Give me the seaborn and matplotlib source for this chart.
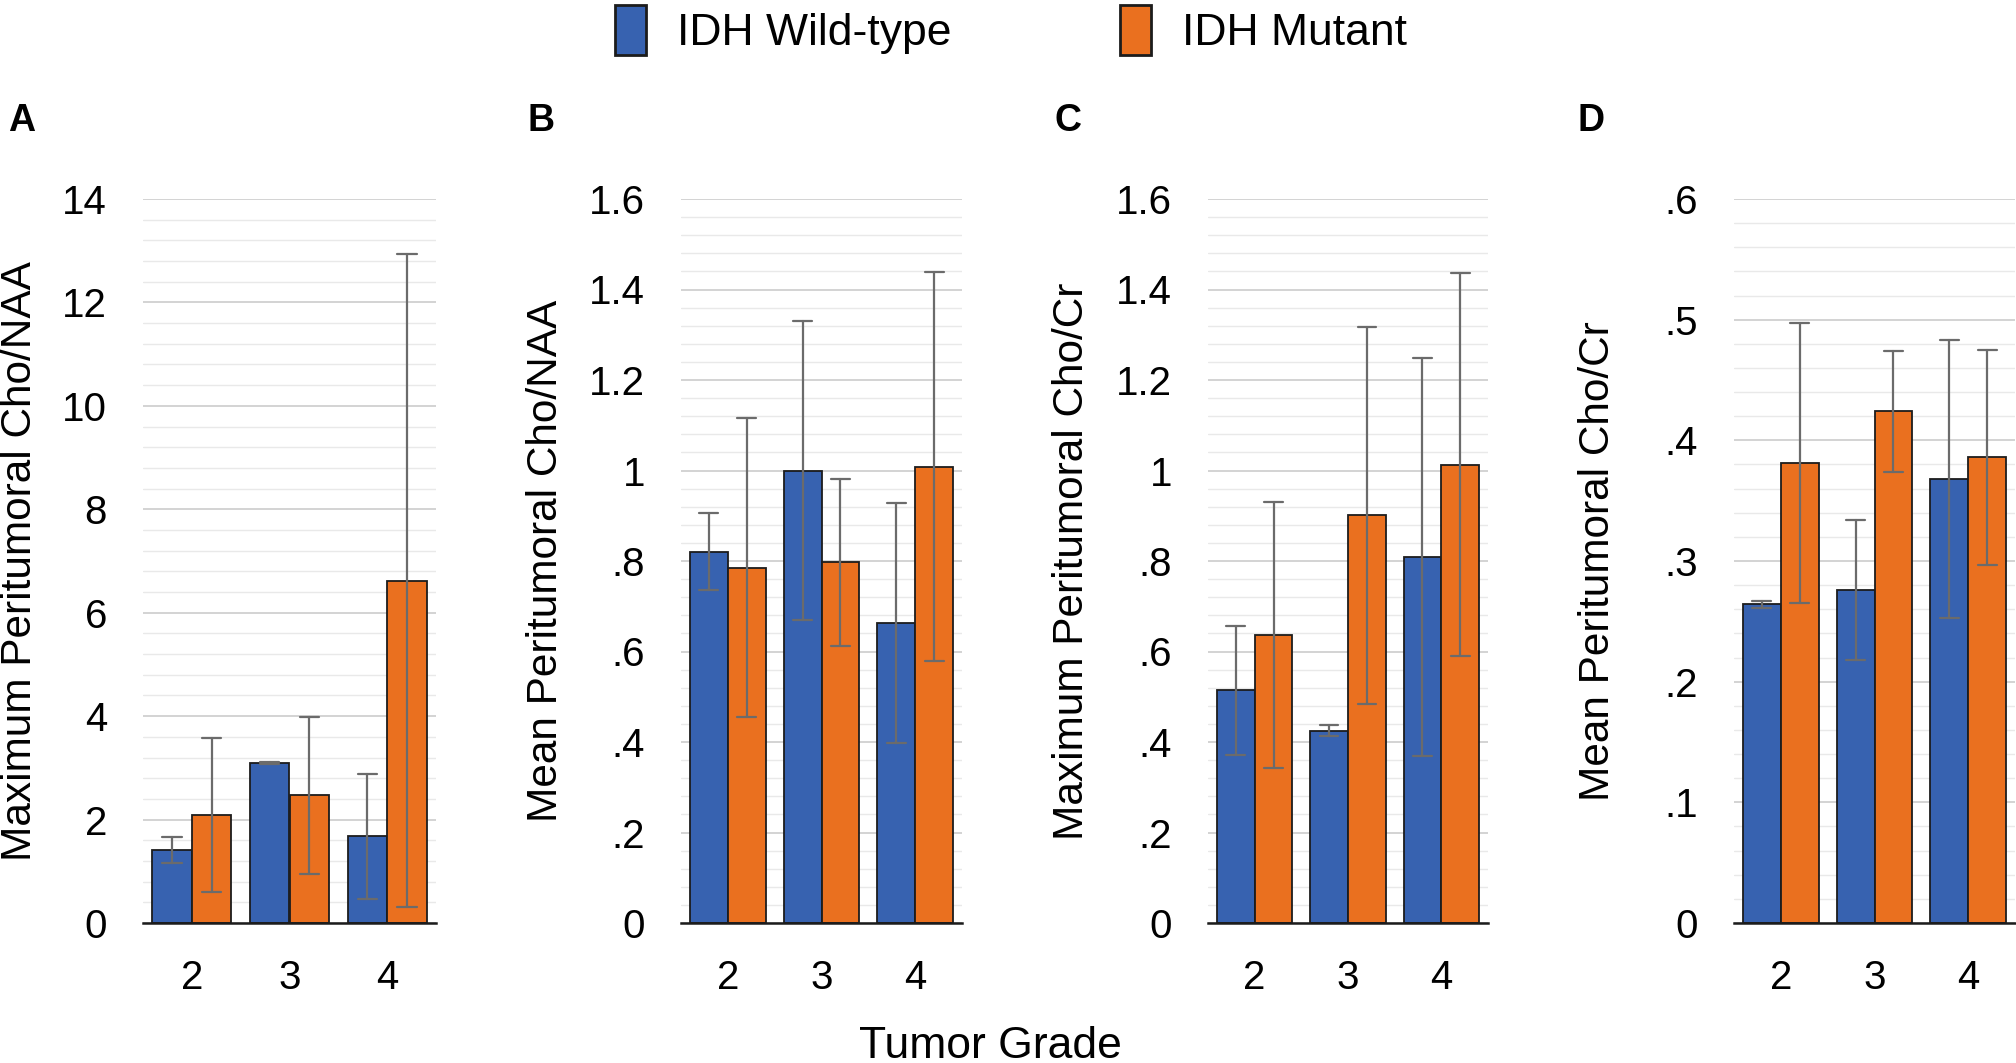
import pandas as pd
import numpy as np
import matplotlib.pyplot as plt
import seaborn as sns
from matplotlib.patches import Patch

# --- dati (media e semi-ampiezza della barra d'errore) ---
grades = ['2', '3', '4']
groups = ['IDH Wild-type', 'IDH Mutant']

a_wt = [1.41, 3.10, 1.68]
a_wt_err = [0.25, 0.02, 1.21]
a_mut = [2.09, 2.47, 6.62]
a_mut_err = [1.49, 1.52, 6.31]

b_wt = [0.82, 1.00, 0.663]
b_wt_err = [0.085, 0.33, 0.265]
b_mut = [0.785, 0.797, 1.008]
b_mut_err = [0.33, 0.184, 0.43]

c_wt = [0.514, 0.425, 0.809]
c_wt_err = [0.142, 0.012, 0.44]
c_mut = [0.637, 0.901, 1.013]
c_mut_err = [0.294, 0.416, 0.424]

d_wt = [0.264, 0.276, 0.368]
d_wt_err = [0.003, 0.058, 0.115]
d_mut = [0.381, 0.424, 0.386]
d_mut_err = [0.116, 0.05, 0.089]

ylabels = ['Maximum Peritumoral Cho/NAA', 'Mean Peritumoral Cho/NAA',
           'Maximum Peritumoral Cho/Cr', 'Mean Peritumoral Cho/Cr']
letters = ['A', 'B', 'C', 'D']

ticks_a = [0, 2, 4, 6, 8, 10, 12, 14]
ticklabels_a = ['0', '2', '4', '6', '8', '10', '12', '14']
ticks_bc = [0, 0.2, 0.4, 0.6, 0.8, 1.0, 1.2, 1.4, 1.6]
ticklabels_bc = ['0', '.2', '.4', '.6', '.8', '1', '1.2', '1.4', '1.6']
ticks_d = [0, 0.1, 0.2, 0.3, 0.4, 0.5, 0.6]
ticklabels_d = ['0', '.1', '.2', '.3', '.4', '.5', '.6']

palette = {'IDH Wild-type': '#3762b0', 'IDH Mutant': '#ea701f'}

sns.set_style('white')
plt.rcParams['font.family'] = ['Liberation Sans', 'DejaVu Sans']
for k in ['text.color', 'axes.labelcolor', 'xtick.color', 'ytick.color']:
    plt.rcParams[k] = 'black'


def long_table(wt, wt_err, mut, mut_err):
    # due osservazioni per barra (media -/+ errore): la media e' il valore,
    # min/max danno gli estremi della barra d'errore
    rows = []
    for name, m, e in [(groups[0], wt, wt_err), (groups[1], mut, mut_err)]:
        for g, v, s in zip(grades, m, e):
            rows.append((g, name, v - s))
            rows.append((g, name, v + s))
    return pd.DataFrame(rows, columns=['grade', 'group', 'value'])


panels = [
    (long_table(a_wt, a_wt_err, a_mut, a_mut_err), ticks_a, ticklabels_a),
    (long_table(b_wt, b_wt_err, b_mut, b_mut_err), ticks_bc, ticklabels_bc),
    (long_table(c_wt, c_wt_err, c_mut, c_mut_err), ticks_bc, ticklabels_bc),
    (long_table(d_wt, d_wt_err, d_mut, d_mut_err), ticks_d, ticklabels_d),
]

W, H = 2016, 1063
fig = plt.figure(figsize=(W / 100, H / 100), dpi=100)

# posizioni in pixel: (sinistra, destra) area grafico, x bordo destro etichetta y, x lettera
lefts = [(143, 436, 40, 8), (681, 962, 566, 527), (1208, 1488, 1092, 1055), (1734, 2015, 1618, 1578)]
top_px, bot_px = 199, 923

for i, (df, ticks, tlabels) in enumerate(panels):
    l, r, ylab_x, let_x = lefts[i]
    ax = fig.add_axes([l / W, 1 - bot_px / H, (r - l) / W, (bot_px - top_px) / H])
    sns.barplot(data=df, x='grade', y='value', hue='group', order=grades,
                hue_order=groups, palette=palette, width=0.81, gap=0,
                estimator='mean', errorbar=lambda v: (v.min(), v.max()),
                capsize=0.4, err_kws={'color': '#6b6b6b', 'linewidth': 1.6},
                edgecolor='#1c1c1c', linewidth=1.3, saturation=1,
                legend=False, ax=ax)

    step = ticks[1] - ticks[0]
    ax.set_ylim(0, ticks[-1])
    ax.set_xlim(-0.5, 2.5)
    ax.set_yticks(ticks)
    ax.set_yticklabels(tlabels)
    ax.set_yticks(np.arange(0, ticks[-1] + step / 10, step / 5), minor=True)
    ax.grid(axis='y', which='major', color='#d0d0d0', linewidth=1.3)
    ax.grid(axis='y', which='minor', color='#e9e9e9', linewidth=1.0)
    ax.set_axisbelow(True)
    ax.tick_params(axis='both', which='both', length=0, labelsize=29, pad=26)
    ax.tick_params(axis='x', pad=26)
    for side in ['top', 'right', 'left']:
        ax.spines[side].set_visible(False)
    ax.spines['bottom'].set_color('#1c1c1c')
    ax.spines['bottom'].set_linewidth(1.8)

    ax.set_xlabel('')
    ax.set_ylabel(ylabels[i], fontsize=30.5)
    ax.yaxis.set_label_coords((ylab_x - l) / (r - l), 0.5)

    fig.text(let_x / W, 1 - 121 / H, letters[i], fontsize=27, fontweight='bold',
             ha='left', va='center')

fig.text(990 / W, 1 - 1046 / H, 'Tumor Grade', fontsize=32,
         ha='center', va='center')

handles = [Patch(facecolor=palette[g], edgecolor='#1c1c1c', linewidth=2.0) for g in groups]
fig.legend(handles, groups, loc='center', bbox_to_anchor=(1011 / W, 1 - 30 / H),
           ncol=2, frameon=False, prop={'size': 32},
           handlelength=0.7, handleheight=1.35, handletextpad=0.7, columnspacing=3.8)

fig.savefig('out.png', dpi=100)
